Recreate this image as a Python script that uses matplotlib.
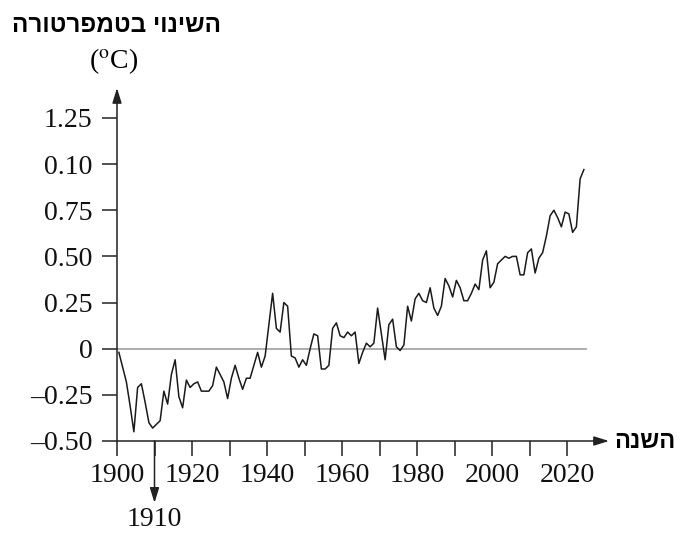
import numpy as np
import matplotlib
matplotlib.use("Agg")
from matplotlib import pyplot as plt

plt.rcParams["font.family"] = ["Liberation Serif", "DejaVu Serif"]
plt.rcParams["mathtext.fontset"] = "stix"

YEARS = np.arange(1900, 2025)
ANOMALY = [
    -0.02, -0.10, -0.18, -0.31, -0.45, -0.21, -0.19, -0.29, -0.40, -0.43,
    -0.41, -0.39, -0.23, -0.30, -0.14, -0.06, -0.26, -0.32, -0.17, -0.21,
    -0.19, -0.18, -0.23, -0.23, -0.23, -0.20, -0.10, -0.14, -0.18, -0.27,
    -0.16, -0.09, -0.16, -0.22, -0.16, -0.16, -0.09, -0.02, -0.10, -0.04,
    0.13, 0.30, 0.11, 0.09, 0.25, 0.23, -0.04, -0.05, -0.10, -0.06,
    -0.09, 0.00, 0.08, 0.07, -0.11, -0.11, -0.09, 0.11, 0.14, 0.07,
    0.06, 0.09, 0.07, 0.09, -0.08, -0.02, 0.03, 0.01, 0.03, 0.22,
    0.08, -0.06, 0.13, 0.16, 0.01, -0.01, 0.02, 0.23, 0.15, 0.27,
    0.30, 0.26, 0.25, 0.33, 0.22, 0.18, 0.23, 0.38, 0.34, 0.28,
    0.37, 0.33, 0.26, 0.26, 0.30, 0.35, 0.32, 0.48, 0.53, 0.33,
    0.36, 0.46, 0.48, 0.50, 0.49, 0.50, 0.50, 0.40, 0.40, 0.52,
    0.54, 0.41, 0.49, 0.52, 0.61, 0.72, 0.75, 0.71, 0.66, 0.74,
    0.73, 0.63, 0.66, 0.92, 0.97,
]

Y_TICKS = [-0.5, -0.25, 0, 0.25, 0.5, 0.75, 1.0, 1.25]
Y_TICK_LABELS = ["–0.50", "–0.25", "0", "0.25", "0.50", "0.75", "0.10", "1.25"]
X_TICKS = list(range(1900, 2021, 10))
X_LABELED = [1900, 1920, 1940, 1960, 1980, 2000, 2020]
MARKED_YEAR = 1910

Y_TITLE = "השינוי בטמפרטורה"
X_TITLE = "השנה"
UNIT = r"($^{\mathrm{o}}$C)"

HEBREW_FONT = ["Liberation Sans", "DejaVu Sans"]
INK = "#222222"

W, H = 684, 536


def rtl(text):
    # matplotlib lays text out left to right, so flip the Hebrew for display
    return text[::-1]


fig = plt.figure(figsize=(W / 100, H / 100), dpi=100)
ax = fig.add_axes([117 / W, (H - 441) / H, (609 - 117) / W, (441 - 88) / H])
ax.set_xlim(1900, 2031.2)
ax.set_ylim(-0.5, 1.412)
for spine in ax.spines.values():
    spine.set_visible(False)

# axes drawn as arrows
arrow = dict(arrowstyle="-|>,head_length=0.9,head_width=0.28", color=INK, lw=1.1,
             shrinkA=0, shrinkB=0)
ax.annotate("", xy=(1900, 1.412), xytext=(1900, -0.5), arrowprops=arrow,
            annotation_clip=False)
ax.annotate("", xy=(2031.2, -0.5), xytext=(1900, -0.5), arrowprops=arrow,
            annotation_clip=False)

ax.set_yticks(Y_TICKS)
ax.set_yticklabels(Y_TICK_LABELS)
ax.set_xticks(X_TICKS)
ax.set_xticklabels([str(t) if t in X_LABELED else "" for t in X_TICKS])
ax.tick_params(length=10.5, width=1.1, color=INK, labelsize=20, labelcolor="#111111")
ax.tick_params(axis="y", pad=7)
ax.tick_params(axis="x", pad=5)

ax.plot([1900, 2025], [0, 0], color="#a6a6a6", lw=1.3, zorder=1)
ax.plot(YEARS + 0.5, ANOMALY, color="#1a1a1a", lw=1.1, zorder=2)

# the marked year below the axis
ax.annotate("", xy=(MARKED_YEAR, -0.835), xytext=(MARKED_YEAR, -0.5),
            arrowprops=arrow, annotation_clip=False)
ax.text(MARKED_YEAR, -0.925, str(MARKED_YEAR), ha="center", va="center",
        fontsize=20, color="#111111", clip_on=False)

fig.text(116 / W, 1 - 25 / H, rtl(Y_TITLE), ha="center", va="center",
         fontsize=17.5, fontweight="bold", family=HEBREW_FONT)
fig.text(114 / W, 1 - 61 / H, UNIT, ha="center", va="center", fontsize=20)
fig.text(614 / W, 1 - 441 / H, rtl(X_TITLE), ha="left", va="center",
         fontsize=17, fontweight="bold", family=HEBREW_FONT)

fig.savefig("out.png", dpi=100)
